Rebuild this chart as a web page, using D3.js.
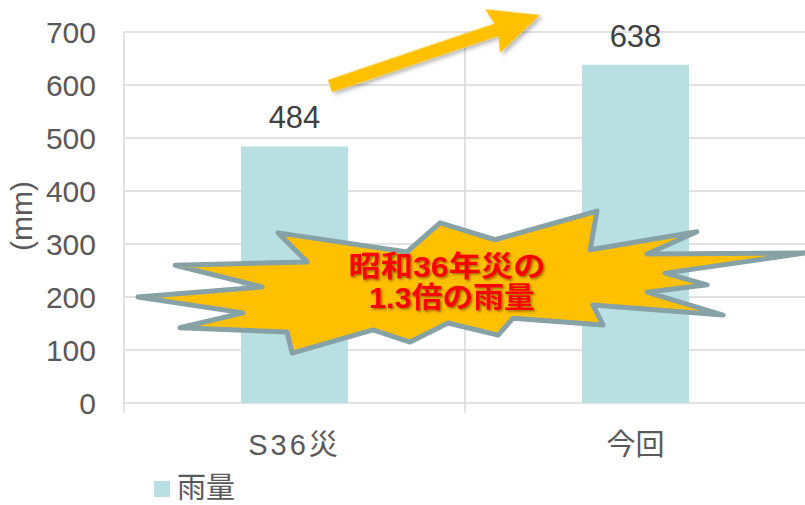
<!DOCTYPE html>
<html><head><meta charset="utf-8">
<script src="https://cdn.jsdelivr.net/npm/d3@7"></script>
<style>
html,body{margin:0;padding:0;background:#fff;}
svg{display:block;}
</style></head>
<body>
<svg id="chart" width="805" height="505"></svg>
<script>
// ---- data ----
const categories = ["S36災", "今回"];
const rainfall = [484, 638];
const yTicks = [0, 100, 200, 300, 400, 500, 600, 700];
const seriesName = "雨量";
const yTitle = "(mm)";
const calloutLines = ["昭和36年災の", "1.3倍の雨量"];
// annotation shapes in data space: [category position (0..2), value in mm]
const burstPts = [[0.041,200],[0.405,219],[0.150,260],[0.537,266],[0.452,321],[0.830,285],[0.927,340],[1.088,308],[1.387,362],[1.367,289],[1.680,323],[1.534,281],[1.997,283],[1.587,245],[1.710,223],[1.534,209],[1.757,166],[1.375,185],[1.405,147],[1.141,160],[1.097,128],[0.950,151],[0.839,115],[0.730,138],[0.493,94],[0.478,134],[0.164,142],[0.349,170]];
const arrowFrom = [0.604, 598];
const arrowTo = [1.220, 732];
const calloutAt = [0.947, 238];

// ---- layout ----
const svg = d3.select("#chart");
const L = 124, R = 806, T = 32, B = 403;
const gridColor = "#d9d9d9";
const fontLatin = "'Liberation Sans', Arial, 'Noto Sans CJK JP', sans-serif";

const x = d3.scaleBand().domain(categories).range([L, R]).paddingInner(0.686).paddingOuter(0.343);
const xOuter = d3.scaleBand().domain(categories).range([L, R]).padding(0);
const xLin = d3.scaleLinear().domain([0, categories.length]).range([L, R]);
const y = d3.scaleLinear().domain([0, 700]).range([B, T]);

const defs = svg.append("defs");
const f1 = defs.append("filter").attr("id","sh").attr("x","-20%").attr("y","-20%").attr("width","140%").attr("height","140%");
f1.append("feDropShadow").attr("dx",2).attr("dy",3).attr("stdDeviation",2).attr("flood-color","#000").attr("flood-opacity",0.3);
const f2 = defs.append("filter").attr("id","tsh").attr("x","-10%").attr("y","-20%").attr("width","120%").attr("height","140%");
f2.append("feDropShadow").attr("dx",1.5).attr("dy",1.5).attr("stdDeviation",0.8).attr("flood-color","#5a2a00").attr("flood-opacity",0.6);

// gridlines
svg.append("g").selectAll("line").data(yTicks.filter(d => d > 0)).join("line")
  .attr("x1", L).attr("x2", R).attr("y1", d => y(d)).attr("y2", d => y(d))
  .attr("stroke", gridColor).attr("stroke-width", 1.5);
// vertical separators / axis
const seps = categories.map(c => xOuter(c));
svg.append("g").selectAll("line").data(seps).join("line")
  .attr("x1", d => d).attr("x2", d => d).attr("y1", T).attr("y2", B + 10)
  .attr("stroke", gridColor).attr("stroke-width", 1.5);
svg.append("line").attr("x1", L).attr("x2", R).attr("y1", B).attr("y2", B)
  .attr("stroke", gridColor).attr("stroke-width", 1.5);

// bars
svg.append("g").selectAll("rect").data(rainfall).join("rect")
  .attr("x", (d,i) => x(categories[i])).attr("width", x.bandwidth())
  .attr("y", d => y(d)).attr("height", d => y(0) - y(d))
  .attr("fill", "#b8dfe2");

// data labels
svg.append("g").selectAll("text").data(rainfall).join("text")
  .attr("x", (d,i) => x(categories[i]) + x.bandwidth()/2)
  .attr("y", d => y(d) - 18)
  .attr("text-anchor", "middle").attr("font-family", fontLatin).attr("font-size", 31)
  .attr("fill", "#404040").text(d => d);

// y tick labels
const yAxis = d3.axisLeft(y).tickValues(yTicks).tickSize(0).tickPadding(0);
const ga = svg.append("g").attr("transform", `translate(96,0)`).call(yAxis);
ga.select(".domain").remove();
ga.selectAll("text").attr("font-family", fontLatin).attr("font-size", 30).attr("fill", "#595959").attr("dy", "0.36em");

// x category labels
svg.append("g").selectAll("text").data(categories).join("text")
  .attr("x", d => x(d) + x.bandwidth()/2).attr("y", 455)
  .attr("text-anchor", "middle").attr("font-family", fontLatin).attr("font-size", 29)
  .attr("letter-spacing", (d,i) => i === 0 ? 3 : 0)
  .attr("fill", "#595959").text(d => d);

// y title
svg.append("text").attr("transform", "translate(32,216) rotate(-90)")
  .attr("text-anchor", "middle").attr("font-family", fontLatin).attr("font-size", 30)
  .attr("fill", "#595959").text(yTitle);

// legend
svg.append("rect").attr("x", 154).attr("y", 481).attr("width", 16).attr("height", 16).attr("fill", "#b8dfe2");
svg.append("text").attr("x", 177).attr("y", 498).attr("font-family", "'Noto Sans CJK JP', sans-serif")
  .attr("font-size", 29).attr("fill", "#595959").text(seriesName);

// arrow
(function(){
  const x0 = xLin(arrowFrom[0]), y0 = y(arrowFrom[1]);
  const x1 = xLin(arrowTo[0]), y1 = y(arrowTo[1]);
  const len = Math.hypot(x1 - x0, y1 - y0);
  const ang = Math.atan2(y1 - y0, x1 - x0) * 180 / Math.PI;
  const sw = 6.5, hw = 23, hl = 46;
  const pts = [[0,-sw],[len-hl,-sw],[len-hl-4,-hw],[len,0],[len-hl-4,hw],[len-hl,sw],[0,sw]];
  svg.append("polygon").attr("points", pts.map(p => p.join(",")).join(" "))
    .attr("transform", `translate(${x0},${y0}) rotate(${ang})`)
    .attr("fill", "#ffc000").attr("filter", "url(#sh)");
})();

// starburst callout
svg.append("polygon")
  .attr("points", burstPts.map(p => [xLin(p[0]), y(p[1])].join(",")).join(" "))
  .attr("fill", "#ffc000").attr("stroke", "#87a2a6").attr("stroke-width", 5)
  .attr("stroke-linejoin", "round");

const cx = xLin(calloutAt[0]), cy = y(calloutAt[1]);
const lens = [197, 166];
const offs = [0, 5];
svg.append("g").attr("filter", "url(#tsh)").selectAll("text").data(calloutLines).join("text")
  .attr("x", (d,i) => cx + offs[i]).attr("y", (d,i) => cy + i*31)
  .attr("text-anchor", "middle").attr("font-family", fontLatin).attr("font-weight", "bold")
  .attr("font-size", 29).attr("fill", "#ff0000")
  .attr("textLength", (d,i) => lens[i]).attr("lengthAdjust", "spacingAndGlyphs")
  .text(d => d);
</script>
</body></html>
